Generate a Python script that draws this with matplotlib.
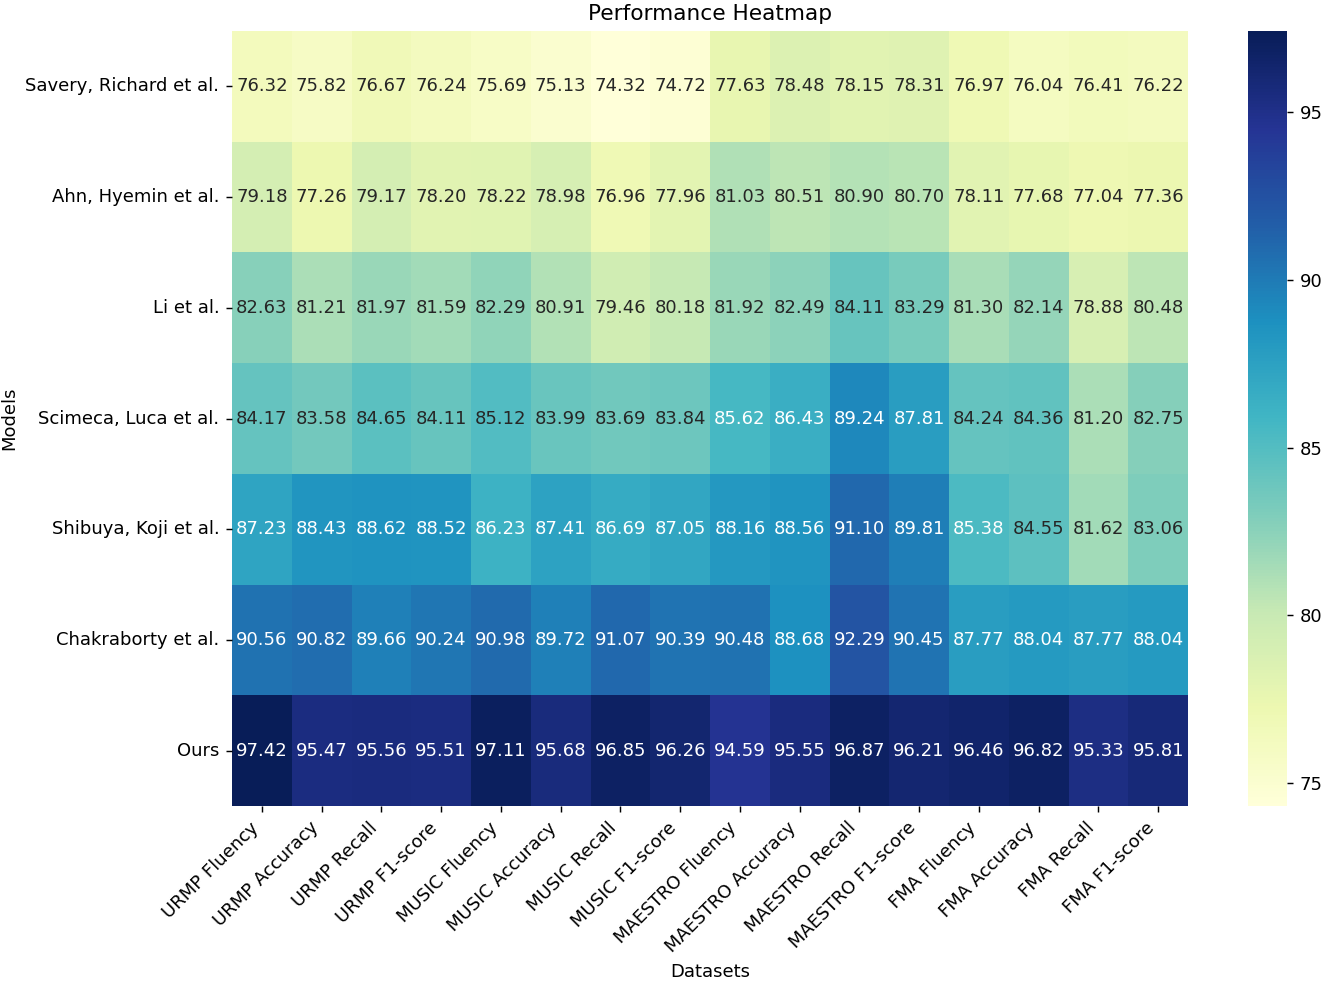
import matplotlib
matplotlib.use("Agg")
import matplotlib.pyplot as plt
import numpy as np
import pandas as pd
import seaborn as sns

models = ["Savery, Richard et al.", "Ahn, Hyemin et al.", "Li et al.",
          "Scimeca, Luca et al.", "Shibuya, Koji et al.", "Chakraborty et al.", "Ours"]
datasets = ["URMP Fluency", "URMP Accuracy", "URMP Recall", "URMP F1-score",
            "MUSIC Fluency", "MUSIC Accuracy", "MUSIC Recall", "MUSIC F1-score",
            "MAESTRO Fluency", "MAESTRO Accuracy", "MAESTRO Recall", "MAESTRO F1-score",
            "FMA Fluency", "FMA Accuracy", "FMA Recall", "FMA F1-score"]

savery = [76.32, 75.82, 76.67, 76.24, 75.69, 75.13, 74.32, 74.72, 77.63, 78.48, 78.15, 78.31, 76.97, 76.04, 76.41, 76.22]
ahn = [79.18, 77.26, 79.17, 78.20, 78.22, 78.98, 76.96, 77.96, 81.03, 80.51, 80.90, 80.70, 78.11, 77.68, 77.04, 77.36]
li = [82.63, 81.21, 81.97, 81.59, 82.29, 80.91, 79.46, 80.18, 81.92, 82.49, 84.11, 83.29, 81.30, 82.14, 78.88, 80.48]
scimeca = [84.17, 83.58, 84.65, 84.11, 85.12, 83.99, 83.69, 83.84, 85.62, 86.43, 89.24, 87.81, 84.24, 84.36, 81.20, 82.75]
shibuya = [87.23, 88.43, 88.62, 88.52, 86.23, 87.41, 86.69, 87.05, 88.16, 88.56, 91.10, 89.81, 85.38, 84.55, 81.62, 83.06]
chakraborty = [90.56, 90.82, 89.66, 90.24, 90.98, 89.72, 91.07, 90.39, 90.48, 88.68, 92.29, 90.45, 87.77, 88.04, 87.77, 88.04]
ours = [97.42, 95.47, 95.56, 95.51, 97.11, 95.68, 96.85, 96.26, 94.59, 95.55, 96.87, 96.21, 96.46, 96.82, 95.33, 95.81]

df = pd.DataFrame([savery, ahn, li, scimeca, shibuya, chakraborty, ours],
                  index=models, columns=datasets)

W, H = 1325, 981
dpi = 130
fig = plt.figure(figsize=(W / dpi, H / dpi), dpi=dpi)
ax = fig.add_axes([232 / W, 1 - 806 / H, (1188 - 232) / W, (806 - 31) / H])
cax = fig.add_axes([1248 / W, 1 - 806 / H, (1287 - 1248) / W, (806 - 31) / H])

sns.heatmap(df, annot=True, fmt=".2f", cmap="YlGnBu", ax=ax, cbar_ax=cax,
            annot_kws={"fontsize": 10})
ax.set_title("Performance Heatmap", fontsize=12)
ax.set_xlabel("Datasets", fontsize=10)
ax.set_ylabel("Models", fontsize=10)
plt.setp(ax.get_xticklabels(), rotation=45, ha="right")
plt.setp(ax.get_yticklabels(), rotation=0)
cax.tick_params(labelsize=10)

fig.savefig("out.png", dpi=dpi)
